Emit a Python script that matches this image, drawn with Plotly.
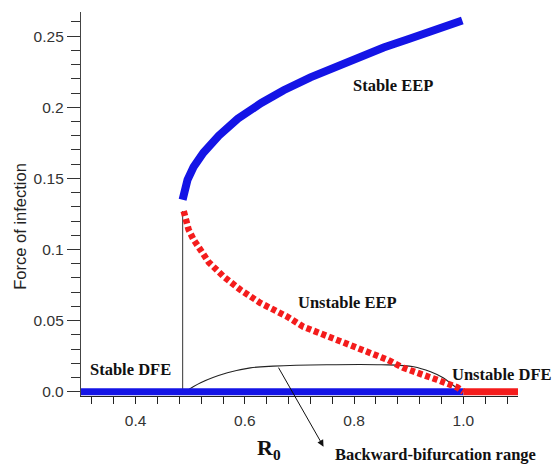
import plotly.graph_objects as go

# Stable endemic equilibrium (upper branch)
eep_stable_r0 = [0.486, 0.488, 0.495, 0.506, 0.524, 0.552, 0.587, 0.63, 0.671, 0.72, 0.762, 0.81, 0.854, 0.90, 0.945, 0.998]
eep_stable_foi = [0.135, 0.140, 0.149, 0.158, 0.168, 0.180, 0.192, 0.203, 0.212, 0.221, 0.228, 0.236, 0.242, 0.248, 0.254, 0.261]

# Unstable endemic equilibrium (lower branch)
eep_unstable_r0 = [0.488, 0.497, 0.506, 0.519, 0.534, 0.561, 0.592, 0.628, 0.678, 0.707, 0.769, 0.830, 0.861, 0.890, 0.921, 0.952, 0.989, 1.0]
eep_unstable_foi = [0.127, 0.114, 0.107, 0.0997, 0.091, 0.081, 0.0716, 0.0625, 0.0527, 0.0457, 0.0365, 0.028, 0.0225, 0.0168, 0.012, 0.0084, 0.003, 0.0]

# Disease-free equilibrium
dfe_stable_r0 = [0.3, 1.0]
dfe_stable_foi = [0.0, 0.0]
dfe_unstable_r0 = [1.0, 1.104]
dfe_unstable_foi = [0.0, 0.0]

# Saddle-node position and backward-bifurcation bracket
saddle_r0 = [0.486, 0.486]
saddle_foi = [0.0, 0.127]
bracket_r0 = [0.491, 0.519, 0.568, 0.61, 0.652, 0.75, 0.85, 0.909, 0.94, 0.963, 0.985, 1.0]
bracket_foi = [0.0, 0.0063, 0.0133, 0.0168, 0.018, 0.019, 0.019, 0.0176, 0.014, 0.0098, 0.0035, 0.0]

y_tick_vals = [0.0, 0.05, 0.1, 0.15, 0.2, 0.25]
y_tick_text = ["0.0", "0.05", "0.1", "0.15", "0.2", "0.25"]
x_tick_vals = [0.4, 0.6, 0.8, 1.0]
x_tick_text = ["0.4", "0.6", "0.8", "1.0"]

BLUE = "#1414e6"
RED = "#f41c1c"
serif_bold = dict(family="Liberation Serif, Times New Roman, serif", size=16.5, color="#111")

fig = go.Figure()

fig.add_trace(go.Scatter(x=saddle_r0, y=saddle_foi, mode="lines",
                         line=dict(color="#555", width=1.2), hoverinfo="skip"))
fig.add_trace(go.Scatter(x=bracket_r0, y=bracket_foi, mode="lines",
                         line=dict(color="#222", width=1.1, shape="spline"), hoverinfo="skip"))
fig.add_trace(go.Scatter(x=dfe_stable_r0, y=dfe_stable_foi, mode="lines",
                         line=dict(color=BLUE, width=7)))
fig.add_trace(go.Scatter(x=dfe_unstable_r0, y=dfe_unstable_foi, mode="lines",
                         line=dict(color=RED, width=7)))
fig.add_trace(go.Scatter(x=eep_unstable_r0, y=eep_unstable_foi, mode="lines",
                         line=dict(color=RED, width=6.5, dash="5px,3px")))
fig.add_trace(go.Scatter(x=eep_stable_r0, y=eep_stable_foi, mode="lines",
                         line=dict(color=BLUE, width=8)))

annotations = [
    dict(x=0.872, y=0.2156, text="<b>Stable EEP</b>"),
    dict(x=0.788, y=0.0625, text="<b>Unstable EEP</b>"),
    dict(x=0.391, y=0.0155, text="<b>Stable DFE</b>"),
    dict(x=1.069, y=0.012, text="<b>Unstable DFE</b>"),
]
for a in annotations:
    a.update(xref="x", yref="y", showarrow=False, font=serif_bold)

# Labels below the plotting area are placed in paper units
annotations.append(dict(x=0.949, y=-0.153, xref="x", yref="paper", showarrow=False,
                        xanchor="center", yanchor="middle",
                        text="<b>Backward-bifurcation range</b>", font=serif_bold))
annotations.append(dict(x=0.744, y=-0.0386, ax=0.66, ay=0.018, xref="x", yref="y",
                        axref="x", ayref="y", text="", showarrow=True,
                        arrowhead=2, arrowsize=1.3, arrowwidth=1, arrowcolor="#111"))
annotations.append(dict(x=0.645, y=-0.138, xref="x", yref="paper", showarrow=False,
                        xanchor="center", yanchor="middle",
                        text="<b>R<sub>0</sub></b>",
                        font=dict(family="Liberation Serif, Times New Roman, serif", size=22, color="#111")))
annotations.append(dict(x=-0.14, y=0.1166, xref="paper", yref="y", showarrow=False,
                        xanchor="center", yanchor="middle",
                        text="Force of infection", textangle=-90,
                        font=dict(family="Liberation Sans, Arial, sans-serif", size=16.5, color="#222")))

fig.update_layout(
    width=553, height=464,
    margin=dict(l=81, r=35, t=12, b=68),
    paper_bgcolor="white", plot_bgcolor="white",
    showlegend=False,
    annotations=annotations,
    font=dict(family="Liberation Sans, Arial, sans-serif", size=15.5, color="#333"),
    xaxis=dict(range=[0.3, 1.1], tickvals=x_tick_vals, ticktext=x_tick_text,
               ticks="outside", ticklen=7, tickwidth=1.3, tickcolor="#222",
               ticklabelstandoff=3,
               showgrid=False, zeroline=False, showline=True, linecolor="#222",
               minor=dict(tick0=0.4, dtick=0.04, ticks="outside", ticklen=7,
                          tickwidth=1.3, tickcolor="#222", showgrid=False)),
    yaxis=dict(range=[-0.003, 0.267], tickvals=y_tick_vals, ticktext=y_tick_text,
               ticks="outside", ticklen=13, tickwidth=1.4, tickcolor="#333",
               showgrid=False, zeroline=False, showline=True, linecolor="#444", linewidth=1.3,
               minor=dict(tick0=0.0, dtick=0.01, ticks="outside", ticklen=9,
                          tickwidth=1.3, tickcolor="#333", showgrid=False)),
)

fig.write_html("out.html")
